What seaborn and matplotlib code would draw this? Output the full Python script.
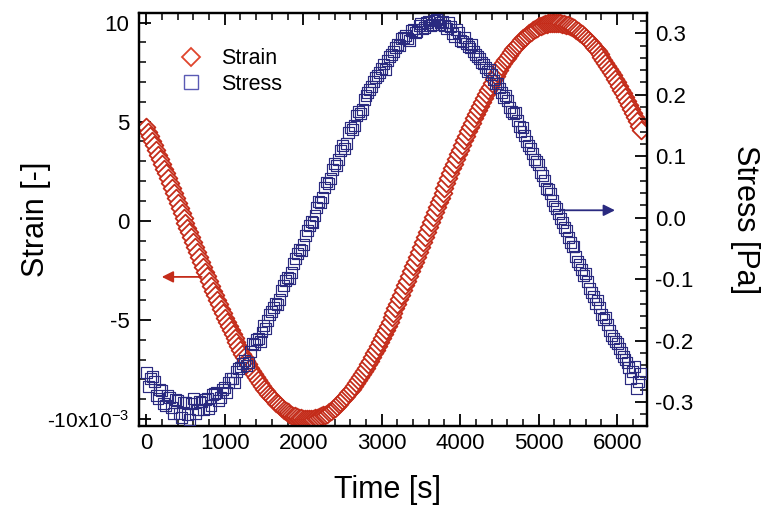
import matplotlib
matplotlib.use("Agg")
import matplotlib.pyplot as plt
from matplotlib.lines import Line2D
from matplotlib.ticker import MultipleLocator, FixedLocator
import pandas as pd
import seaborn as sns

# ---------------- data ----------------
# samples at the full 50 s marks
time_a = [
    0, 50, 100, 150, 200, 250, 300, 350, 400, 450,
    500, 550, 600, 650, 700, 750, 800, 850, 900, 950,
    1000, 1050, 1100, 1150, 1200, 1250, 1300, 1350, 1400, 1450,
    1500, 1550, 1600, 1650, 1700, 1750, 1800, 1850, 1900, 1950,
    2000, 2050, 2100, 2150, 2200, 2250, 2300, 2350, 2400, 2450,
    2500, 2550, 2600, 2650, 2700, 2750, 2800, 2850, 2900, 2950,
    3000, 3050, 3100, 3150, 3200, 3250, 3300, 3350, 3400, 3450,
    3500, 3550, 3600, 3650, 3700, 3750, 3800, 3850, 3900, 3950,
    4000, 4050, 4100, 4150, 4200, 4250, 4300, 4350, 4400, 4450,
    4500, 4550, 4600, 4650, 4700, 4750, 4800, 4850, 4900, 4950,
    5000, 5050, 5100, 5150, 5200, 5250, 5300, 5350, 5400, 5450,
    5500, 5550, 5600, 5650, 5700, 5750, 5800, 5850, 5900, 5950,
    6000, 6050, 6100, 6150, 6200, 6250, 6300,
]
# strain in units of 1e-3
strain_a = [
    4.71, 4.27, 3.81, 3.32, 2.87, 2.39, 1.90, 1.40, 0.91, 0.41,
    -0.09, -0.59, -1.09, -1.59, -2.08, -2.56, -3.04, -3.52, -3.98, -4.43,
    -4.88, -5.31, -5.72, -6.12, -6.51, -6.88, -7.24, -7.57, -7.89, -8.19,
    -8.46, -8.72, -8.95, -9.17, -9.35, -9.52, -9.66, -9.78, -9.87, -9.94,
    -9.98, -10.00, -9.99, -9.96, -9.90, -9.82, -9.72, -9.59, -9.43, -9.26,
    -9.05, -8.83, -8.59, -8.32, -8.03, -7.72, -7.40, -7.05, -6.69, -6.31,
    -5.91, -5.50, -5.08, -4.64, -4.19, -3.73, -3.26, -2.79, -2.30, -1.81,
    -1.32, -0.82, -0.32, 0.18, 0.68, 1.17, 1.67, 2.16, 2.64, 3.12,
    3.59, 4.06, 4.51, 4.95, 5.38, 5.79, 6.19, 6.58, 6.95, 7.30,
    7.63, 7.94, 8.23, 8.51, 8.76, 8.99, 9.20, 9.38, 9.54, 9.68,
    9.80, 9.88, 9.95, 9.99, 10.00, 9.99, 9.95, 9.89, 9.81, 9.70,
    9.56, 9.41, 9.22, 9.02, 8.79, 8.54, 8.27, 7.98, 7.67, 7.34,
    6.99, 6.62, 6.24, 5.85, 5.43, 5.01, 4.57,
]
# stress in Pa
stress_a = [
    -0.252, -0.262, -0.266, -0.295, -0.281, -0.306, -0.292, -0.318, -0.297, -0.325,
    -0.301, -0.328, -0.294, -0.313, -0.300, -0.296, -0.311, -0.288, -0.284, -0.293,
    -0.276, -0.268, -0.262, -0.251, -0.243, -0.232, -0.236, -0.205, -0.199, -0.201,
    -0.175, -0.168, -0.152, -0.139, -0.133, -0.110, -0.097, -0.089, -0.066, -0.052,
    -0.044, -0.021, -0.006, 0.003, 0.026, 0.033, 0.058, 0.064, 0.088, 0.094,
    0.118, 0.121, 0.146, 0.150, 0.172, 0.176, 0.199, 0.209, 0.222, 0.231,
    0.243, 0.241, 0.262, 0.270, 0.282, 0.291, 0.296, 0.289, 0.307, 0.303,
    0.316, 0.309, 0.320, 0.314, 0.322, 0.317, 0.313, 0.318, 0.299, 0.306,
    0.288, 0.293, 0.279, 0.281, 0.265, 0.259, 0.250, 0.238, 0.233, 0.219,
    0.211, 0.196, 0.190, 0.172, 0.171, 0.149, 0.146, 0.124, 0.113, 0.094,
    0.086, 0.069, 0.048, 0.039, 0.019, 0.006, -0.008, -0.021, -0.041, -0.047,
    -0.072, -0.085, -0.091, -0.116, -0.128, -0.134, -0.158, -0.162, -0.184, -0.196,
    -0.205, -0.219, -0.231, -0.244, -0.251, -0.278, -0.253,
]

# samples in between (25 s offset)
time_b = [
    25, 75, 125, 175, 225, 275, 325, 375, 425, 475,
    525, 575, 625, 675, 725, 775, 825, 875, 925, 975,
    1025, 1075, 1125, 1175, 1225, 1275, 1325, 1375, 1425, 1475,
    1525, 1575, 1625, 1675, 1725, 1775, 1825, 1875, 1925, 1975,
    2025, 2075, 2125, 2175, 2225, 2275, 2325, 2375, 2425, 2475,
    2525, 2575, 2625, 2675, 2725, 2775, 2825, 2875, 2925, 2975,
    3025, 3075, 3125, 3175, 3225, 3275, 3325, 3375, 3425, 3475,
    3525, 3575, 3625, 3675, 3725, 3775, 3825, 3875, 3925, 3975,
    4025, 4075, 4125, 4175, 4225, 4275, 4325, 4375, 4425, 4475,
    4525, 4575, 4625, 4675, 4725, 4775, 4825, 4875, 4925, 4975,
    5025, 5075, 5125, 5175, 5225, 5275, 5325, 5375, 5425, 5475,
    5525, 5575, 5625, 5675, 5725, 5775, 5825, 5875, 5925, 5975,
    6025, 6075, 6125, 6175, 6225, 6275,
]
strain_b = [
    4.49, 4.04, 3.57, 3.10, 2.63, 2.15, 1.65, 1.16, 0.66, 0.16,
    -0.34, -0.84, -1.34, -1.84, -2.32, -2.80, -3.28, -3.75, -4.21, -4.66,
    -5.10, -5.52, -5.92, -6.32, -6.70, -7.06, -7.41, -7.73, -8.04, -8.33,
    -8.59, -8.84, -9.06, -9.26, -9.44, -9.59, -9.72, -9.83, -9.91, -9.96,
    -9.99, -10.00, -9.98, -9.93, -9.86, -9.77, -9.66, -9.51, -9.35, -9.16,
    -8.94, -8.71, -8.46, -8.18, -7.88, -7.56, -7.23, -6.87, -6.50, -6.11,
    -5.71, -5.29, -4.86, -4.42, -3.96, -3.50, -3.03, -2.55, -2.06, -1.57,
    -1.07, -0.57, -0.07, 0.43, 0.93, 1.42, 1.92, 2.40, 2.88, 3.36,
    3.83, 4.29, 4.73, 5.17, 5.59, 5.99, 6.39, 6.77, 7.13, 7.47,
    7.79, 8.09, 8.37, 8.64, 8.88, 9.10, 9.29, 9.46, 9.61, 9.74,
    9.84, 9.92, 9.97, 10.00, 10.00, 9.97, 9.92, 9.85, 9.76, 9.63,
    9.49, 9.32, 9.12, 8.91, 8.67, 8.41, 8.13, 7.83, 7.51, 7.17,
    6.81, 6.43, 6.05, 5.64, 5.22, 4.79,
]
stress_b = [
    -0.274, -0.259, -0.289, -0.279, -0.303, -0.289, -0.309, -0.296, -0.318, -0.300,
    -0.321, -0.303, -0.318, -0.299, -0.312, -0.295, -0.305, -0.286, -0.297, -0.279,
    -0.284, -0.262, -0.268, -0.246, -0.238, -0.241, -0.218, -0.207, -0.196, -0.186,
    -0.181, -0.158, -0.146, -0.141, -0.118, -0.103, -0.099, -0.074, -0.059, -0.053,
    -0.029, -0.013, -0.008, 0.017, 0.024, 0.049, 0.055, 0.079, 0.085, 0.110,
    0.113, 0.138, 0.143, 0.166, 0.169, 0.192, 0.204, 0.214, 0.228, 0.236,
    0.250, 0.256, 0.265, 0.277, 0.280, 0.293, 0.291, 0.304, 0.301, 0.312,
    0.307, 0.318, 0.312, 0.321, 0.315, 0.319, 0.308, 0.311, 0.295, 0.301,
    0.286, 0.284, 0.276, 0.270, 0.262, 0.253, 0.245, 0.241, 0.224, 0.218,
    0.204, 0.199, 0.179, 0.170, 0.158, 0.140, 0.134, 0.117, 0.105, 0.092,
    0.074, 0.061, 0.046, 0.028, 0.015, -0.002, -0.016, -0.032, -0.047, -0.063,
    -0.076, -0.094, -0.104, -0.122, -0.139, -0.146, -0.165, -0.174, -0.191, -0.201,
    -0.213, -0.226, -0.236, -0.261, -0.242, -0.266,
]

x_ticks = [0, 1000, 2000, 3000, 4000, 5000, 6000]
strain_ticks = [-10, -5, 0, 5, 10]
strain_tick_labels = ["-10x10$^{-3}$", "-5", "0", "5", "10"]
stress_ticks = [-0.3, -0.2, -0.1, 0.0, 0.1, 0.2, 0.3]
stress_tick_labels = ["-0.3", "-0.2", "-0.1", "0.0", "0.1", "0.2", "0.3"]

STRAIN_C = "#c42c1a"
STRESS_C = "#2a2a80"

# ---------------- style ----------------
sns.set_theme(style="white")
plt.rcParams["font.family"] = ["Liberation Sans", "DejaVu Sans"]
plt.rcParams["mathtext.fontset"] = "custom"
plt.rcParams["mathtext.rm"] = "Liberation Sans"
plt.rcParams["mathtext.default"] = "regular"
for key in ("text.color", "axes.labelcolor", "xtick.color", "ytick.color",
            "axes.edgecolor"):
    plt.rcParams[key] = "black"

fig = plt.figure(figsize=(7.65, 5.07), dpi=100)
ax1 = fig.add_axes([139 / 765, 1 - 426 / 507, (647 - 139) / 765, (426 - 13) / 507])
ax2 = ax1.twinx()

df = pd.concat([
    pd.DataFrame({"time": time_a, "strain": strain_a, "stress": stress_a}),
    pd.DataFrame({"time": time_b, "strain": strain_b, "stress": stress_b}),
]).sort_values("time").reset_index(drop=True)

sns.scatterplot(data=df, x="time", y="strain", ax=ax1, marker="D", s=82,
                color="white", edgecolor=STRAIN_C, linewidth=1.3, legend=False,
                zorder=3)
sns.scatterplot(data=df, x="time", y="stress", ax=ax2, marker="s", s=62,
                color=STRESS_C, facecolor="none", edgecolor=STRESS_C,
                linewidth=0.85, legend=False, zorder=3)

ax1.set_xlim(-92, 6380)
ax1.set_ylim(-10.35, 10.48)
ax2.set_ylim(-0.339, 0.333)

# ticks
tick_fs = 16
ax1.xaxis.set_major_locator(FixedLocator(x_ticks))
ax1.set_xticklabels([str(v) for v in x_ticks], fontsize=tick_fs)
ax1.xaxis.set_minor_locator(MultipleLocator(200))
ax1.yaxis.set_major_locator(FixedLocator(strain_ticks))
ax1.set_yticklabels(strain_tick_labels, fontsize=tick_fs)
ax1.get_yticklabels()[0].set_fontsize(15)
ax1.yaxis.set_minor_locator(MultipleLocator(1))
ax2.yaxis.set_major_locator(FixedLocator(stress_ticks))
ax2.set_yticklabels(stress_tick_labels, fontsize=tick_fs)
ax2.yaxis.set_minor_locator(MultipleLocator(0.02))

for ax in (ax1, ax2):
    ax.tick_params(which="major", direction="in", length=8.5, width=1.3,
                   color="black", labelcolor="black")
    ax.tick_params(which="minor", direction="in", length=5, width=1.1,
                   color="black")
    for sp in ax.spines.values():
        sp.set_color("black")
        sp.set_linewidth(1.6)
ax1.tick_params(axis="x", which="both", top=True, bottom=True, pad=5)
ax1.tick_params(axis="y", which="both", left=True, right=False, pad=7)
ax2.tick_params(axis="y", which="both", left=False, right=True, pad=6)
ax1.grid(False)
ax2.grid(False)

label_fs = 22
ax1.set_xlabel("Time [s]", fontsize=label_fs, va="center")
ax1.set_ylabel("Strain [-]", fontsize=label_fs, va="center")
ax2.set_ylabel("Stress [Pa]", fontsize=label_fs, rotation=270, va="center")
ax1.xaxis.set_label_coords(0.49, -0.155)
ax1.yaxis.set_label_coords(-0.203, 0.5)
ax2.yaxis.set_label_coords(1.193, 0.5)

# arrows indicating the axis of each series
ax1.annotate("", xy=(198, -2.83), xytext=(707, -2.83),
             arrowprops=dict(arrowstyle="-|>", color=STRAIN_C, lw=1.3,
                             mutation_scale=17, shrinkA=0, shrinkB=0))
ax2.annotate("", xy=(5972, 0.012), xytext=(5270, 0.012),
             arrowprops=dict(arrowstyle="-|>", color=STRESS_C, lw=1.3,
                             mutation_scale=17, shrinkA=0, shrinkB=0))

# legend
handles = [
    Line2D([], [], marker="D", linestyle="none", markersize=9.5,
           markerfacecolor="none", markeredgecolor="#e0452c", markeredgewidth=1.3),
    Line2D([], [], marker="s", linestyle="none", markersize=9.5,
           markerfacecolor="none", markeredgecolor="#5a5ab4", markeredgewidth=1.0),
]
ax2.legend(handles, ["Strain", "Stress"], loc="upper left",
           bbox_to_anchor=(0.06, 0.935), frameon=False, fontsize=15.5,
           handlelength=1.2, handletextpad=0.8, labelspacing=0.2,
           borderaxespad=0)

fig.savefig("out.png", dpi=100)
